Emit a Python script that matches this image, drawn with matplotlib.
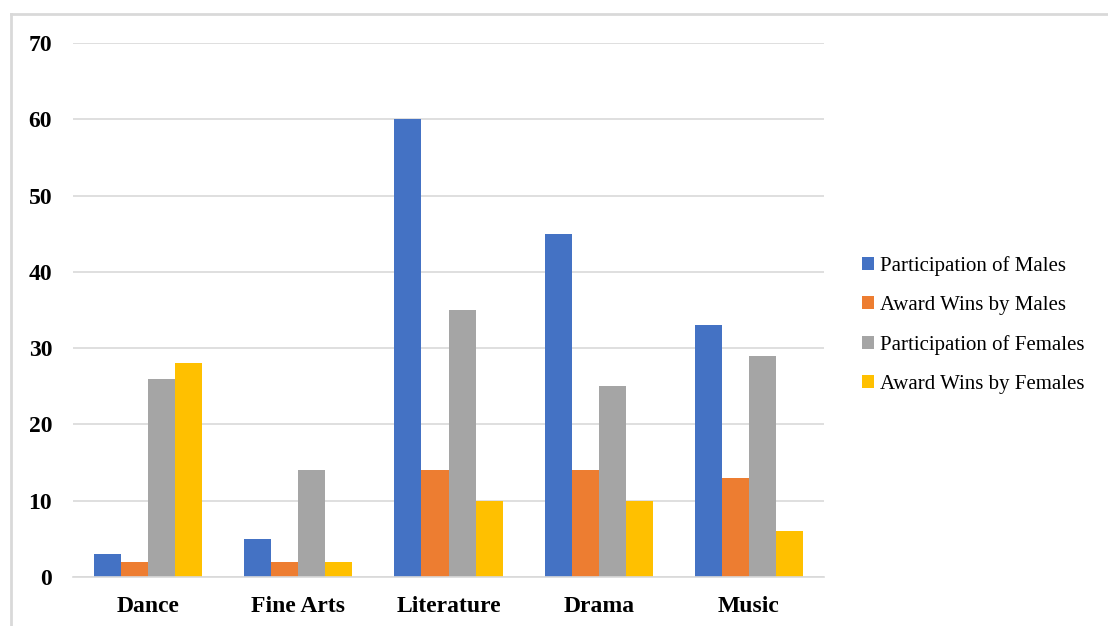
import numpy as np
import matplotlib.pyplot as plt
from matplotlib.lines import Line2D

# data
categories = ["Dance", "Fine Arts", "Literature", "Drama", "Music"]
male_participation = [3, 5, 60, 45, 33]
male_awards = [2, 2, 14, 14, 13]
female_participation = [26, 14, 35, 25, 29]
female_awards = [28, 2, 10, 10, 6]

series_names = [
    "Participation of Males",
    "Award Wins by Males",
    "Participation of Females",
    "Award Wins by Females",
]
series_values = [male_participation, male_awards, female_participation, female_awards]
colors = ["#4472C4", "#ED7D31", "#A5A5A5", "#FFC000"]

W, H = 1108, 626
fig = plt.figure(figsize=(W / 100, H / 100), dpi=100)
plt.rcParams["font.family"] = ["Liberation Serif", "DejaVu Serif"]

ax = fig.add_axes([73 / W, 1 - 577 / H, (824 - 73) / W, (577 - 43) / H])

x = np.arange(len(categories))
bw = 0.18
offsets = (np.arange(len(series_names)) - 1.5) * bw
for name, vals, col, off in zip(series_names, series_values, colors, offsets):
    ax.bar(x + off, vals, width=bw, color=col, label=name, zorder=3)

ax.set_xlim(-0.5, len(categories) - 0.5)
ax.set_ylim(0, 70)
ax.set_yticks(range(0, 71, 10))
ax.set_xticks(x)
ax.set_xticklabels(categories)
ax.tick_params(axis="both", length=0, labelsize=17)
ax.tick_params(axis="x", pad=14)
ax.tick_params(axis="y", pad=15)
for lbl in ax.get_xticklabels() + ax.get_yticklabels():
    lbl.set_fontweight("bold")

ax.grid(axis="y", color="#D9D9D9", linewidth=1.2, zorder=0)
for side in ["top", "right", "left"]:
    ax.spines[side].set_visible(False)
ax.spines["bottom"].set_color("#D9D9D9")
ax.spines["bottom"].set_linewidth(1.2)
ax.spines["bottom"].set_zorder(4)

leg = fig.legend(
    loc="center left",
    bbox_to_anchor=(843 / W, 1 - 325 / H),
    frameon=False,
    fontsize=15,
    handlelength=0.6,
    handleheight=0.6,
    handletextpad=0.3,
    labelspacing=0.97,
)

# light border on top and left like the source frame
fig.add_artist(Line2D([11 / W, 1], [1 - 13.5 / H, 1 - 13.5 / H], color="#D9D9D9", linewidth=2))
fig.add_artist(Line2D([11 / W, 11 / W], [0, 1 - 13.5 / H], color="#D9D9D9", linewidth=2))

fig.savefig("out.png", dpi=100)
